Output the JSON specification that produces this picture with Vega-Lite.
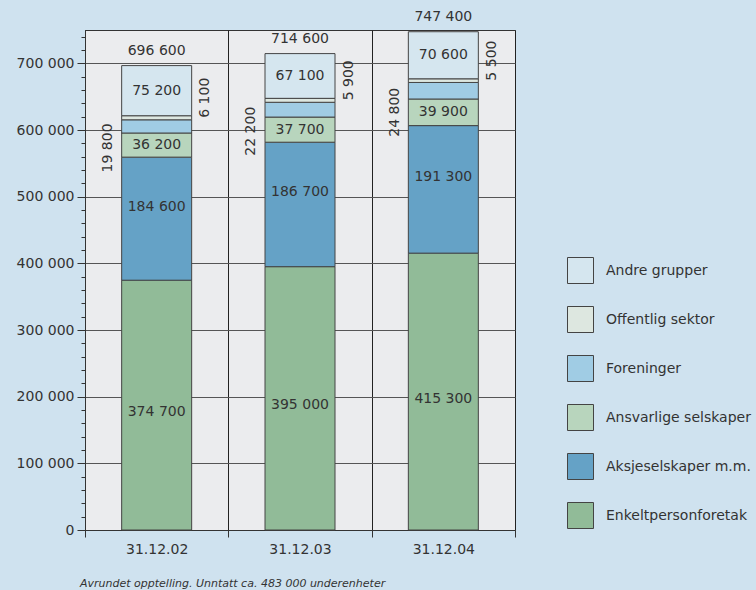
{
  "$schema": "https://vega.github.io/schema/vega-lite/v6.json",
  "width": 430,
  "height": 500,
  "autosize": {"type": "none"},
  "padding": {"left": 85, "top": 30, "right": 241, "bottom": 60},
  "background": "#cfe2ef",
  "title": {
    "text": "Avrundet opptelling. Unntatt ca. 483 000 underenheter",
    "orient": "bottom",
    "anchor": "start",
    "frame": "group",
    "dx": -5,
    "offset": 22,
    "font": "DejaVu Sans",
    "fontSize": 11,
    "fontStyle": "italic",
    "fontWeight": "normal",
    "color": "#333"
  },
  "config": {
    "locale": {"number": {"decimal": ",", "thousands": " ", "grouping": [3], "currency": ["", ""]}},
    "view": {"fill": "#ebecee", "stroke": "#333"},
    "font": "DejaVu Sans",
    "axis": {"labelFont": "DejaVu Sans", "labelFontSize": 14, "labelColor": "#333", "domainColor": "#333", "tickColor": "#333"},
    "text": {"font": "DejaVu Sans", "fontSize": 14, "color": "#333"},
    "legend": {
      "orient": "none",
      "legendX": 482,
      "legendY": 227,
      "padding": 0,
      "symbolType": "square",
      "symbolSize": 676,
      "symbolStrokeColor": "#444",
      "symbolStrokeWidth": 1,
      "rowPadding": 18,
      "labelOffset": 12,
      "labelFont": "DejaVu Sans",
      "labelFontSize": 14,
      "labelColor": "#333"
    }
  },
  "data": {
    "values": [
      {"date": "31.12.02", "category": "Enkeltpersonforetak", "order": 1, "value": 374700},
      {"date": "31.12.02", "category": "Aksjeselskaper m.m.", "order": 2, "value": 184600},
      {"date": "31.12.02", "category": "Ansvarlige selskaper", "order": 3, "value": 36200},
      {"date": "31.12.02", "category": "Foreninger", "order": 4, "value": 19800},
      {"date": "31.12.02", "category": "Offentlig sektor", "order": 5, "value": 6100},
      {"date": "31.12.02", "category": "Andre grupper", "order": 6, "value": 75200},
      {"date": "31.12.03", "category": "Enkeltpersonforetak", "order": 1, "value": 395000},
      {"date": "31.12.03", "category": "Aksjeselskaper m.m.", "order": 2, "value": 186700},
      {"date": "31.12.03", "category": "Ansvarlige selskaper", "order": 3, "value": 37700},
      {"date": "31.12.03", "category": "Foreninger", "order": 4, "value": 22200},
      {"date": "31.12.03", "category": "Offentlig sektor", "order": 5, "value": 5900},
      {"date": "31.12.03", "category": "Andre grupper", "order": 6, "value": 67100},
      {"date": "31.12.04", "category": "Enkeltpersonforetak", "order": 1, "value": 415300},
      {"date": "31.12.04", "category": "Aksjeselskaper m.m.", "order": 2, "value": 191300},
      {"date": "31.12.04", "category": "Ansvarlige selskaper", "order": 3, "value": 39900},
      {"date": "31.12.04", "category": "Foreninger", "order": 4, "value": 24800},
      {"date": "31.12.04", "category": "Offentlig sektor", "order": 5, "value": 5500},
      {"date": "31.12.04", "category": "Andre grupper", "order": 6, "value": 70600}
    ]
  },
  "transform": [
    {"stack": "value", "groupby": ["date"], "sort": [{"field": "order", "order": "ascending"}], "as": ["v0", "v1"]},
    {"calculate": "(datum.v0 + datum.v1) / 2", "as": "mid"}
  ],
  "layer": [
    {
      "mark": {"type": "bar", "width": 70, "stroke": "#444", "strokeWidth": 1},
      "encoding": {
        "x": {
          "field": "date",
          "type": "nominal",
          "title": null,
          "scale": {"paddingInner": 0, "paddingOuter": 0},
          "axis": {"labelAngle": 0, "tickBand": "extent", "grid": true, "gridColor": "#222", "tickSize": 7, "labelPadding": 5}
        },
        "y": {
          "field": "v1",
          "type": "quantitative",
          "title": null,
          "scale": {"domain": [0, 750000], "nice": false},
          "axis": {
            "values": [0, 20000, 40000, 60000, 80000, 100000, 120000, 140000, 160000, 180000, 200000, 220000, 240000, 260000, 280000, 300000, 320000, 340000, 360000, 380000, 400000, 420000, 440000, 460000, 480000, 500000, 520000, 540000, 560000, 580000, 600000, 620000, 640000, 660000, 680000, 700000, 720000, 740000],
            "tickCount": 50,
            "labelOverlap": false,
            "labelExpr": "datum.value % 100000 === 0 ? format(datum.value, ',') : ''",
            "tickSize": {"condition": {"test": "datum.value % 100000 === 0", "value": 8}, "value": 4},
            "grid": true,
            "gridColor": "#555",
            "gridOpacity": {"condition": {"test": "datum.value % 100000 === 0", "value": 1}, "value": 0},
            "labelPadding": 3
          }
        },
        "y2": {"field": "v0"},
        "color": {
          "field": "category",
          "type": "nominal",
          "title": null,
          "scale": {
            "domain": ["Andre grupper", "Offentlig sektor", "Foreninger", "Ansvarlige selskaper", "Aksjeselskaper m.m.", "Enkeltpersonforetak"],
            "range": ["#d5e6ef", "#dde7e0", "#a0cce4", "#b8d5bd", "#65a2c6", "#91bb98"]
          }
        }
      }
    },
    {
      "transform": [{"filter": "datum.category === 'Enkeltpersonforetak'"}],
      "mark": {"type": "text", "dy": 7},
      "encoding": {
        "x": {"field": "date", "type": "nominal"},
        "y": {"field": "mid", "type": "quantitative"},
        "text": {"field": "value", "type": "quantitative", "format": ","}
      }
    },
    {
      "transform": [{"filter": "datum.category === 'Aksjeselskaper m.m.'"}],
      "mark": {"type": "text", "dy": -12},
      "encoding": {
        "x": {"field": "date", "type": "nominal"},
        "y": {"field": "mid", "type": "quantitative"},
        "text": {"field": "value", "type": "quantitative", "format": ","}
      }
    },
    {
      "transform": [{"filter": "datum.category === 'Ansvarlige selskaper' || datum.category === 'Andre grupper'"}],
      "mark": {"type": "text"},
      "encoding": {
        "x": {"field": "date", "type": "nominal"},
        "y": {"field": "mid", "type": "quantitative"},
        "text": {"field": "value", "type": "quantitative", "format": ","}
      }
    },
    {
      "transform": [{"filter": "datum.category === 'Foreninger'"}],
      "mark": {"type": "text", "angle": 270, "align": "right", "baseline": "middle", "dx": 3},
      "encoding": {
        "x": {"field": "date", "type": "nominal", "bandPosition": 0.16},
        "y": {"field": "mid", "type": "quantitative"},
        "text": {"field": "value", "type": "quantitative", "format": ","}
      }
    },
    {
      "transform": [{"filter": "datum.category === 'Offentlig sektor'"}],
      "mark": {"type": "text", "angle": 270, "align": "left", "baseline": "middle"},
      "encoding": {
        "x": {"field": "date", "type": "nominal", "bandPosition": 0.84},
        "y": {"field": "mid", "type": "quantitative"},
        "text": {"field": "value", "type": "quantitative", "format": ","}
      }
    },
    {
      "transform": [{"filter": "datum.category === 'Andre grupper'"}],
      "mark": {"type": "text", "baseline": "middle", "dy": -15},
      "encoding": {
        "x": {"field": "date", "type": "nominal"},
        "y": {"field": "v1", "type": "quantitative"},
        "text": {"field": "v1", "type": "quantitative", "format": ","}
      }
    }
  ]
}
